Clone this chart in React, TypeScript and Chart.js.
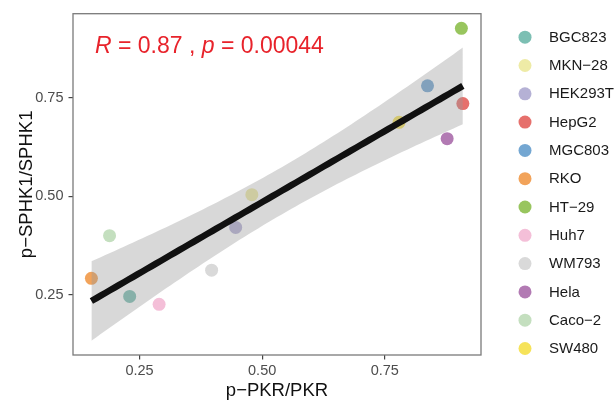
import React, { useEffect, useRef } from 'react';
import { Chart, registerables } from 'chart.js';

Chart.register(...registerables);

// ---- data ----
const cellLines = ['BGC823', 'MKN\u221228', 'HEK293T', 'HepG2', 'MGC803', 'RKO', 'HT\u221229', 'Huh7', 'WM793', 'Hela', 'Caco\u22122', 'SW480'];
const pkrRatio = [0.230, 0.479, 0.446, 0.909, 0.837, 0.152, 0.906, 0.290, 0.397, 0.877, 0.189, 0.779];
const sphk1Ratio = [0.246, 0.504, 0.421, 0.735, 0.780, 0.292, 0.926, 0.226, 0.3125, 0.646, 0.400, 0.6875];
const pointColors = ['#7cbfb3', '#eeeba6', '#b5b1d5', '#e6706c', '#74a7d2', '#f2a35a', '#98c55e', '#f4bfd8', '#d9d9d9', '#b27ab3', '#c4dfbf', '#f6e35a'];
const xTicks = [0.25, 0.5, 0.75];
const yTicks = [0.25, 0.5, 0.75];
const statR = '0.87';
const statP = '0.00044';
const tCrit = 2.228; // t(0.975, df = n - 2 = 10)

const FONT = '"Liberation Sans", Arial, Helvetica, sans-serif';

function regression() {
  const n = pkrRatio.length;
  const mx = pkrRatio.reduce((a, b) => a + b, 0) / n;
  const my = sphk1Ratio.reduce((a, b) => a + b, 0) / n;
  let sxx = 0, sxy = 0;
  for (let i = 0; i < n; i++) {
    sxx += (pkrRatio[i] - mx) ** 2;
    sxy += (pkrRatio[i] - mx) * (sphk1Ratio[i] - my);
  }
  const slope = sxy / sxx;
  const icpt = my - slope * mx;
  let sse = 0;
  for (let i = 0; i < n; i++) sse += (sphk1Ratio[i] - (icpt + slope * pkrRatio[i])) ** 2;
  const s = Math.sqrt(sse / (n - 2));
  const xmin = Math.min(...pkrRatio);
  const xmax = Math.max(...pkrRatio);
  const steps = 80;
  const fit: { x: number; y: number }[] = [];
  const up: { x: number; y: number }[] = [];
  const lo: { x: number; y: number }[] = [];
  for (let k = 0; k <= steps; k++) {
    const x = xmin + ((xmax - xmin) * k) / steps;
    const yh = icpt + slope * x;
    const se = s * Math.sqrt(1 / n + (x - mx) ** 2 / sxx);
    fit.push({ x, y: yh });
    up.push({ x, y: yh + tCrit * se });
    lo.push({ x, y: yh - tCrit * se });
  }
  return { fit, up, lo };
}

const overlayPlugin = {
  id: 'overlay',
  beforeDraw(chart: any) {
    const { ctx } = chart;
    ctx.save();
    ctx.fillStyle = '#ffffff';
    ctx.fillRect(0, 0, chart.width, chart.height);
    ctx.restore();
  },
  afterDraw(chart: any) {
    const { ctx, chartArea } = chart;
    ctx.save();
    // panel frame
    ctx.strokeStyle = '#7a7a7a';
    ctx.lineWidth = 1.3;
    ctx.strokeRect(chartArea.left, chartArea.top, chartArea.right - chartArea.left, chartArea.bottom - chartArea.top);

    // annotation
    const parts: [string, boolean][] = [
      ['R', true],
      [' = ' + statR + ' , ', false],
      ['p', true],
      [' = ' + statP, false],
    ];
    let x = chartArea.left + 22;
    const y = chartArea.top + 33;
    ctx.fillStyle = '#e8232b';
    ctx.textBaseline = 'middle';
    ctx.textAlign = 'left';
    for (const [txt, it] of parts) {
      ctx.font = `${it ? 'italic ' : ''}23px ${FONT}`;
      ctx.fillText(txt, x, y);
      x += ctx.measureText(txt).width;
    }

    // legend
    ctx.font = `15px ${FONT}`;
    cellLines.forEach((name, i) => {
      const cy = chartArea.top + 23.5 + i * 28.3;
      ctx.beginPath();
      ctx.fillStyle = pointColors[i];
      ctx.arc(chartArea.right + 44, cy, 6.5, 0, Math.PI * 2);
      ctx.fill();
      ctx.fillStyle = '#1a1a1a';
      ctx.fillText(name, chartArea.right + 68, cy + 0.5);
    });
    ctx.restore();
  },
};

export default function App() {
  const ref = useRef<HTMLCanvasElement | null>(null);
  useEffect(() => {
    if (!ref.current) return;
    const { fit, up, lo } = regression();
    const pointSets = cellLines.map((name, i) => ({
      type: 'scatter' as const,
      label: name,
      data: [{ x: pkrRatio[i], y: sphk1Ratio[i] }],
      backgroundColor: pointColors[i],
      borderWidth: 0,
      pointRadius: 6.5,
      pointHoverRadius: 6.5,
      order: 3,
    }));
    const chart = new Chart(ref.current, {
      type: 'scatter',
      data: {
        datasets: [
          ...pointSets,
          {
            type: 'line',
            label: 'upper',
            data: up,
            borderWidth: 0,
            pointRadius: 0,
            fill: '+1',
            backgroundColor: 'rgba(153,153,153,0.38)',
            order: 2,
          },
          {
            type: 'line',
            label: 'lower',
            data: lo,
            borderWidth: 0,
            pointRadius: 0,
            fill: false,
            order: 2,
          },
          {
            type: 'line',
            label: 'fit',
            data: fit,
            borderColor: '#111111',
            borderWidth: 6.5,
            pointRadius: 0,
            fill: false,
            order: 1,
          },
        ] as any,
      },
      options: {
        responsive: false,
        animation: false,
        layout: { padding: { left: 0, top: 9, right: 134, bottom: 0 } },
        plugins: { legend: { display: false }, tooltip: { enabled: false } },
        scales: {
          x: {
            type: 'linear',
            min: 0.1145,
            max: 0.946,
            afterBuildTicks: (s: any) => {
              s.ticks = xTicks.map((v) => ({ value: v }));
            },
            afterFit: (s: any) => {
              s.height = 47;
            },
            ticks: {
              callback: (v: any) => Number(v).toFixed(2),
              font: { family: FONT, size: 14.5 },
              color: '#4d4d4d',
              padding: 3,
            },
            grid: { drawOnChartArea: false, tickLength: 4.5, color: '#444', lineWidth: 1.2 },
            border: { display: false },
            title: {
              display: true,
              text: 'p\u2212PKR/PKR',
              font: { family: FONT, size: 18.5 },
              color: '#111',
              padding: { top: 0, bottom: 0 },
            },
          },
          y: {
            type: 'linear',
            min: 0.0975,
            max: 0.963,
            afterBuildTicks: (s: any) => {
              s.ticks = yTicks.map((v) => ({ value: v }));
            },
            afterFit: (s: any) => {
              s.width = 73;
            },
            ticks: {
              callback: (v: any) => Number(v).toFixed(2),
              font: { family: FONT, size: 14.5 },
              color: '#4d4d4d',
              padding: 5,
            },
            grid: { drawOnChartArea: false, tickLength: 4.5, color: '#444', lineWidth: 1.2 },
            border: { display: false },
            title: {
              display: true,
              text: 'p\u2212SPHK1/SPHK1',
              font: { family: FONT, size: 18.5 },
              color: '#111',
              padding: { top: 16, bottom: 0 },
            },
          },
        },
      } as any,
      plugins: [overlayPlugin],
    });
    return () => chart.destroy();
  }, []);
  return (
    <div style={{ position: 'fixed', left: 0, top: 0, width: 615, height: 402, background: '#fff' }}>
      <canvas ref={ref} width={615} height={402} />
    </div>
  );
}
